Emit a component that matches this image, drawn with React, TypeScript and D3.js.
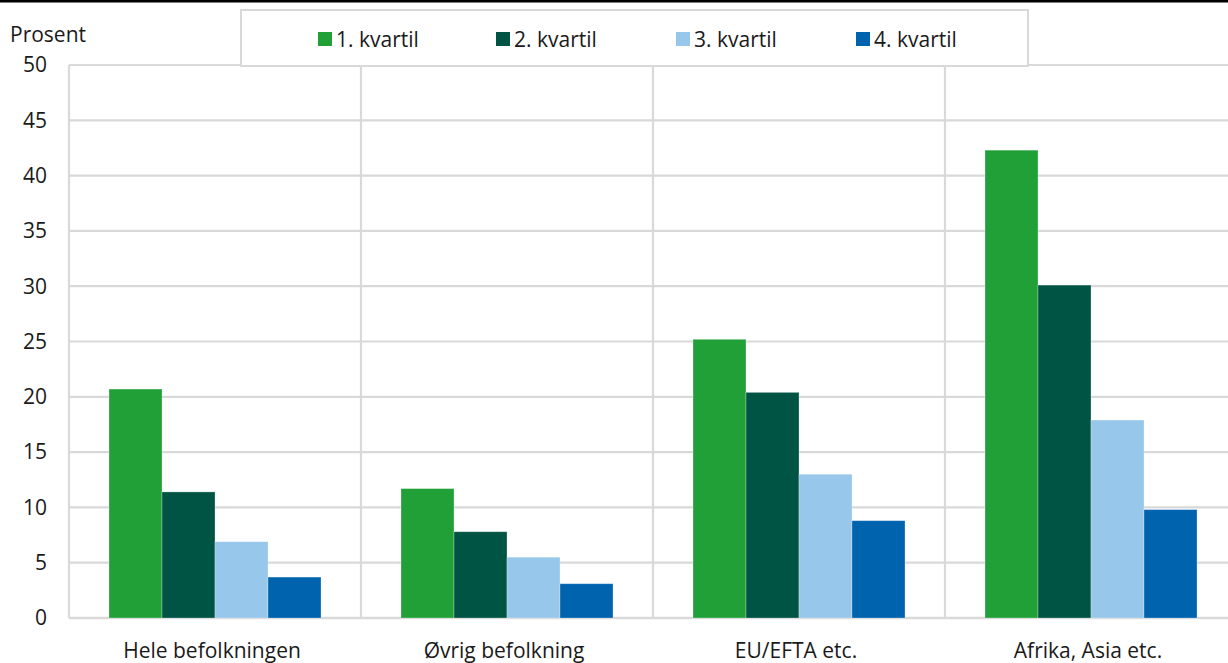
import React from "react";
import * as d3 from "d3";

const categories = ["Hele befolkningen", "Øvrig befolkning", "EU/EFTA etc.", "Afrika, Asia etc."];
const seriesNames = ["1. kvartil", "2. kvartil", "3. kvartil", "4. kvartil"];
const q1 = [20.7, 11.7, 25.2, 42.3];
const q2 = [11.4, 7.8, 20.4, 30.1];
const q3 = [6.9, 5.5, 13.0, 17.9];
const q4 = [3.7, 3.1, 8.8, 9.8];
const yTicks = [0, 5, 10, 15, 20, 25, 30, 35, 40, 45, 50];
const colors = ["#21a038", "#005444", "#97c7eb", "#0063ae"];

const W = 1228;
const H = 663;
const left = 69;
const right = 1237;
const top = 65;
const bottom = 618;
const font = "'Open Sans', sans-serif";
const fs = 21;

export default function App() {
  const series = [q1, q2, q3, q4];
  const x0 = d3.scaleBand<string>().domain(categories).range([left, right]).paddingInner(0).paddingOuter(0);
  const inner = 212 / 292;
  const x1 = d3
    .scaleBand<string>()
    .domain(seriesNames)
    .range([0, x0.bandwidth() * inner])
    .padding(0);
  const groupOffset = (x0.bandwidth() * (1 - inner)) / 2;
  const y = d3.scaleLinear().domain([0, 50]).range([bottom, top]);
  const grid = "#d9d9d9";

  const legendX = [318, 496, 676, 856];

  return (
    <svg width={W} height={H} style={{ position: "absolute", left: 0, top: 0, background: "#fff" }} fontFamily={font}>
      <rect x={0} y={0} width={W} height={H} fill="#fff" />
      <rect x={0} y={0} width={W} height={2.5} fill="#000" />
      {yTicks.map((t) => (
        <g key={t}>
          <line x1={left} x2={W} y1={y(t)} y2={y(t)} stroke={grid} strokeWidth={2.2} />
          <text x={47} y={y(t)} dy="0.35em" textAnchor="end" fontSize={fs} fill="#1a1a1a">
            {t}
          </text>
        </g>
      ))}
      {categories.map((c) => (
        <line key={c} x1={x0(c)!} x2={x0(c)!} y1={top} y2={bottom} stroke={grid} strokeWidth={2.2} />
      ))}
      <line x1={left} x2={W} y1={bottom} y2={bottom} stroke={grid} strokeWidth={2.5} />
      {categories.map((c, ci) => (
        <g key={c}>
          <g transform={`translate(${x0(c)! + groupOffset},0)`}>
            {seriesNames.map((s, si) => {
              const v = series[si][ci];
              return (
                <rect
                  key={s}
                  x={x1(s)!}
                  y={y(v)}
                  width={x1.bandwidth()}
                  height={y(0) - y(v)}
                  fill={colors[si]}
                  stroke="#ffffff"
                  strokeOpacity={0.35}
                  strokeWidth={0.8}
                />
              );
            })}
          </g>
          <text
            x={x0(c)! + x0.bandwidth() / 2 - 3}
            y={650.5}
            dy="0.35em"
            textAnchor="middle"
            fontSize={fs}
            fill="#1a1a1a"
          >
            {c}
          </text>
        </g>
      ))}
      <text x={10} y={42} fontSize={fs} fill="#1a1a1a">
        Prosent
      </text>
      <rect x={241} y={10} width={787} height={56} fill="#fff" stroke={grid} strokeWidth={2} />
      {seriesNames.map((s, i) => (
        <g key={s}>
          <rect x={legendX[i]} y={32} width={14} height={14} fill={colors[i]} />
          <text x={legendX[i] + 18} y={40} dy="0.35em" fontSize={fs} fill="#1a1a1a">
            {s}
          </text>
        </g>
      ))}
    </svg>
  );
}
